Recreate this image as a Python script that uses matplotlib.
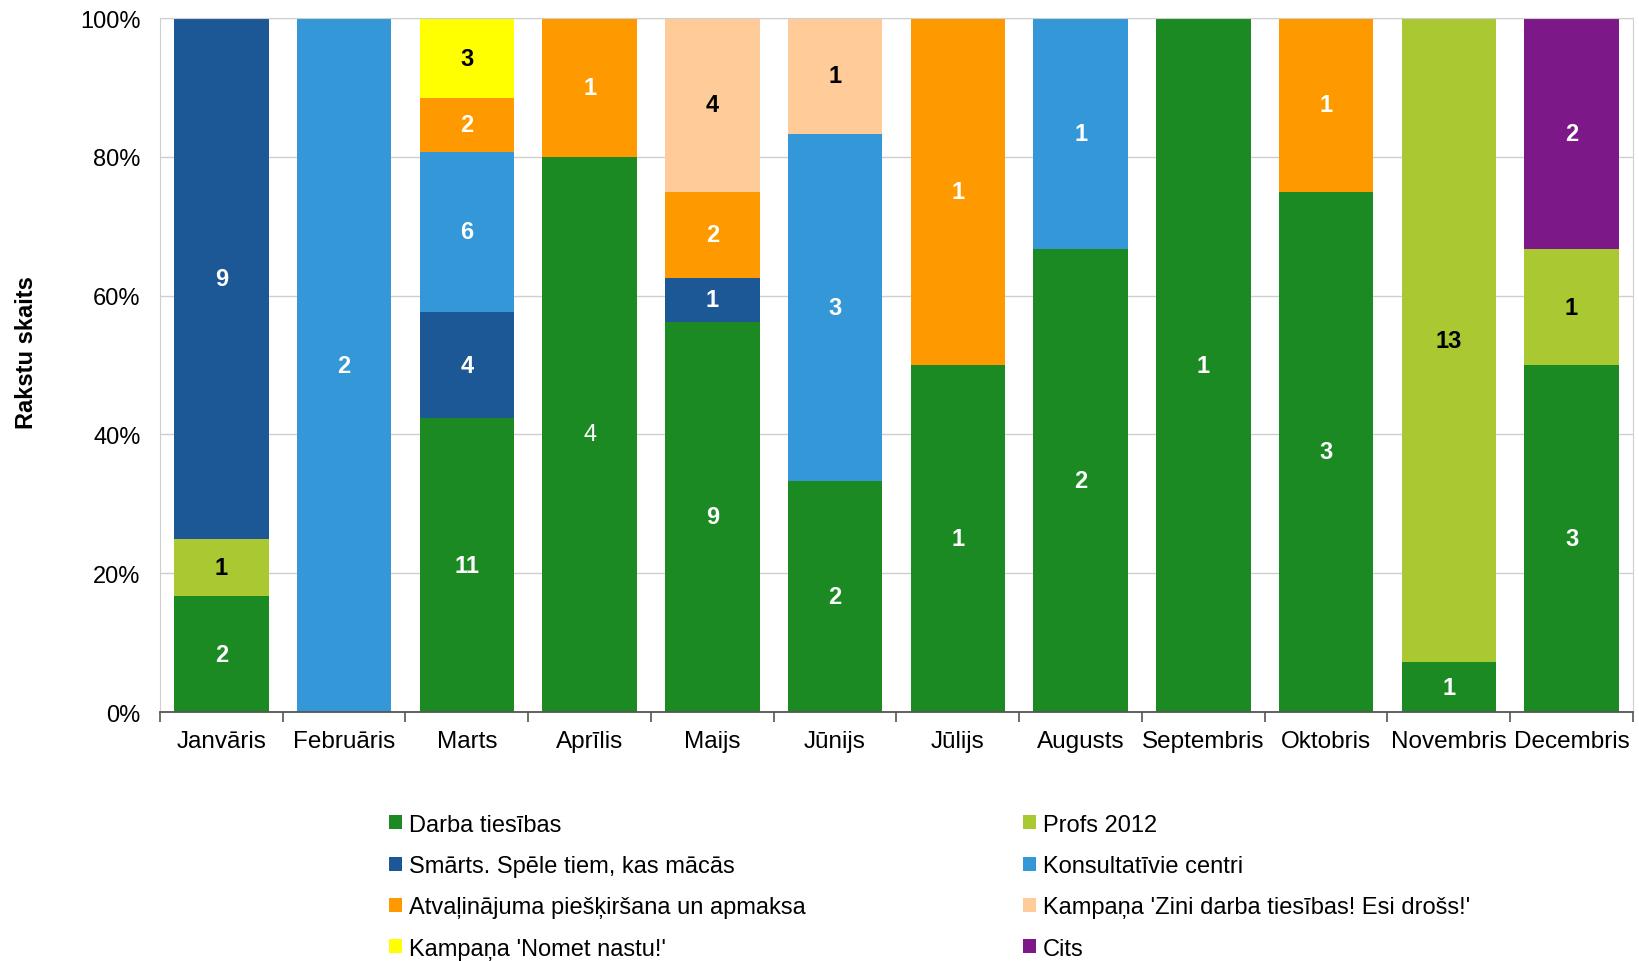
import numpy as np
import matplotlib
matplotlib.use("Agg")
import matplotlib.pyplot as plt
from matplotlib.ticker import PercentFormatter

plt.rcParams['font.family'] = ['Liberation Sans', 'DejaVu Sans']

months = ["Janvāris", "Februāris", "Marts", "Aprīlis", "Maijs", "Jūnijs",
          "Jūlijs", "Augusts", "Septembris", "Oktobris", "Novembris", "Decembris"]

darba = [2, 0, 11, 4, 9, 2, 1, 2, 1, 3, 1, 3]
profs = [1, 0, 0, 0, 0, 0, 0, 0, 0, 0, 13, 1]
smarts = [9, 0, 4, 0, 1, 0, 0, 0, 0, 0, 0, 0]
konsult = [0, 2, 6, 0, 0, 3, 0, 1, 0, 0, 0, 0]
atval = [0, 0, 2, 1, 2, 0, 1, 0, 0, 1, 0, 0]
zini = [0, 0, 0, 0, 4, 1, 0, 0, 0, 0, 0, 0]
nomet = [0, 0, 3, 0, 0, 0, 0, 0, 0, 0, 0, 0]
cits = [0, 0, 0, 0, 0, 0, 0, 0, 0, 0, 0, 2]

series = [
    ("Darba tiesības", darba, "#1B8A23", "white"),
    ("Profs 2012", profs, "#AAC832", "black"),
    ("Smārts. Spēle tiem, kas mācās", smarts, "#1D5896", "white"),
    ("Konsultatīvie centri", konsult, "#3397D8", "white"),
    ("Atvaļinājuma piešķiršana un apmaksa", atval, "#FF9900", "white"),
    ("Kampaņa 'Zini darba tiesības! Esi drošs!'", zini, "#FFCC99", "black"),
    ("Kampaņa 'Nomet nastu!'", nomet, "#FFFF00", "black"),
    ("Cits", cits, "#7D1888", "white"),
]

totals = np.sum([s[1] for s in series], axis=0)
x = np.arange(len(months))

fig = plt.figure(figsize=(16.39, 9.62), dpi=100)
ax = fig.add_axes([0.0976, 0.2588, 0.8987, 0.7214])

bottom = np.zeros(len(months))
handles = {}
for name, vals, color, tcolor in series:
    vals = np.array(vals, dtype=float)
    frac = vals / totals
    bars = ax.bar(x, frac, 0.77, bottom=bottom, color=color, label=name, zorder=2)
    handles[name] = bars
    for i in range(len(months)):
        if vals[i] > 0:
            # April's Darba label is drawn non-bold in the original
            weight = "normal" if (name == "Darba tiesības" and i == 3) else "bold"
            ax.text(x[i], bottom[i] + frac[i] / 2, str(int(vals[i])),
                    ha="center", va="center", color=tcolor,
                    fontsize=17, fontweight=weight, zorder=3)
    bottom += frac

ax.set_xlim(-0.5, len(months) - 0.5)
ax.set_ylim(0, 1)
ax.yaxis.set_major_formatter(PercentFormatter(1.0, decimals=0))
ax.set_yticks(np.arange(0, 1.01, 0.2))
ax.tick_params(axis="y", length=0, pad=14, labelsize=17)
ax.grid(axis="y", color="#CFCFCF", linewidth=1, zorder=0)

ax.set_xticks(x)
ax.set_xticklabels(months)
ax.set_xticks(np.arange(-0.5, len(months)), minor=True)
ax.tick_params(axis="x", which="major", length=0, pad=13, labelsize=17.5)
ax.tick_params(axis="x", which="minor", length=7, width=1.2, color="#555555", direction="out")

for side in ["top", "right", "left"]:
    ax.spines[side].set_color("#CFCFCF")
ax.spines["bottom"].set_color("#555555")
ax.spines["bottom"].set_linewidth(1.3)

fig.text(0.016, 0.633, "Rakstu skaits", rotation=90, ha="center", va="center",
         fontsize=17, fontweight="bold")

order = ["Darba tiesības", "Smārts. Spēle tiem, kas mācās",
         "Atvaļinājuma piešķiršana un apmaksa", "Kampaņa 'Nomet nastu!'",
         "Profs 2012", "Konsultatīvie centri",
         "Kampaņa 'Zini darba tiesības! Esi drošs!'", "Cits"]
fig.legend([handles[n] for n in order], order, ncol=2, loc="upper left",
           bbox_to_anchor=(0.2316, 0.163), frameon=False, fontsize=17,
           handlelength=0.55, handleheight=0.55, handletextpad=0.3,
           columnspacing=9.2, labelspacing=0.82, borderaxespad=0)

fig.savefig("out.png", dpi=100)
